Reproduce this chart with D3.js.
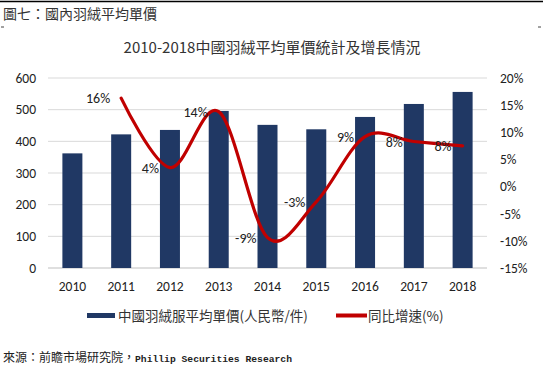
<!DOCTYPE html>
<html>
<head>
<meta charset="utf-8">
<script src="https://cdn.jsdelivr.net/npm/d3@7"></script>
<style>
  body { margin: 0; background: #fff; }
  svg { display: block; }
</style>
</head>
<body>
<script>
const width = 543;
const height = 368;

// data
const years = ["2010", "2011", "2012", "2013", "2014", "2015", "2016", "2017", "2018"];
const avgPrice = [362, 422, 436, 496, 452, 438, 477, 518, 556];
const growthYears = ["2011", "2012", "2013", "2014", "2015", "2016", "2017", "2018"];
const growth = [16.3, 3.5, 13.8, -9.4, -2.8, 9.2, 8.3, 7.5];
const growthLabels = ["16%", "4%", "14%", "-9%", "-3%", "9%", "8%", "8%"];
const leftTicks = [0, 100, 200, 300, 400, 500, 600];
const rightTicks = [-15, -10, -5, 0, 5, 10, 15, 20];

const plotLeft = 48, plotRight = 487, plotTop = 78, plotBottom = 268;
const cjk = "'Noto Sans CJK TC', sans-serif";
const latin = "Calibri, Carlito, 'Open Sans', sans-serif";

const svg = d3.select("body").append("svg")
    .attr("width", width)
    .attr("height", height);

// header
svg.append("line")
    .attr("x1", 0).attr("x2", width)
    .attr("y1", 1.5).attr("y2", 1.5)
    .attr("stroke", "#000").attr("stroke-width", 1.5);
svg.append("text")
    .attr("x", 3).attr("y", 19)
    .attr("font-family", cjk).attr("font-size", 14).attr("fill", "#333")
    .text("圖七：國內羽絨平均單價");
svg.append("line").attr("x1", 1).attr("x2", 4).attr("y1", 27).attr("y2", 27).attr("stroke", "#444");
svg.append("line").attr("x1", 538).attr("x2", 541).attr("y1", 27).attr("y2", 27).attr("stroke", "#444");

svg.append("text")
    .attr("x", 272).attr("y", 53)
    .attr("text-anchor", "middle")
    .attr("font-family", cjk).attr("font-size", 15).attr("fill", "#333")
    .text("2010-2018中國羽絨平均單價統計及增長情況");

// scales
const x = d3.scaleBand()
    .domain(years)
    .range([plotLeft, plotRight])
    .paddingInner(0.59)
    .paddingOuter(0.295);
const yLeft = d3.scaleLinear().domain([0, 600]).range([plotBottom, plotTop]);
const yRight = d3.scaleLinear().domain([-15, 20]).range([plotBottom, plotTop]);

// gridlines
svg.append("g")
    .selectAll("line")
    .data(leftTicks)
    .join("line")
    .attr("x1", plotLeft).attr("x2", plotRight)
    .attr("y1", d => yLeft(d)).attr("y2", d => yLeft(d))
    .attr("stroke", d => d === 0 ? "#bfbfbf" : "#d9d9d9")
    .attr("stroke-width", 1);

// axes
const leftAxis = svg.append("g")
    .attr("transform", `translate(${plotLeft},0)`)
    .call(d3.axisLeft(yLeft).tickValues(leftTicks).tickSize(0).tickPadding(12));
const rightAxis = svg.append("g")
    .attr("transform", `translate(${plotRight},0)`)
    .call(d3.axisRight(yRight).tickValues(rightTicks).tickSize(0).tickPadding(13)
        .tickFormat(d => d + "%"));
const bottomAxis = svg.append("g")
    .attr("transform", `translate(0,${plotBottom})`)
    .call(d3.axisBottom(x).tickSize(0).tickPadding(13));
[leftAxis, rightAxis, bottomAxis].forEach(a => {
  a.select(".domain").remove();
  a.selectAll("text")
      .attr("font-family", latin)
      .attr("font-size", 13.5)
      .attr("fill", "#222");
});

// bars
svg.append("g")
    .selectAll("rect")
    .data(avgPrice)
    .join("rect")
    .attr("x", (d, i) => x(years[i]))
    .attr("y", d => yLeft(d))
    .attr("width", x.bandwidth())
    .attr("height", d => plotBottom - yLeft(d))
    .attr("fill", "#203864");

// growth line
const cx = d => x(d) + x.bandwidth() / 2;
const line = d3.line()
    .x((d, i) => cx(growthYears[i]))
    .y(d => yRight(d))
    .curve(d3.curveCatmullRom.alpha(0));
svg.append("path")
    .datum(growth)
    .attr("d", line)
    .attr("fill", "none")
    .attr("stroke", "#c00000")
    .attr("stroke-width", 3.2)
    .attr("stroke-linecap", "round");

svg.append("g")
    .selectAll("text")
    .data(growth)
    .join("text")
    .attr("x", (d, i) => cx(growthYears[i]) - 11)
    .attr("y", d => yRight(d) + 5)
    .attr("text-anchor", "end")
    .attr("font-family", latin)
    .attr("font-size", 14)
    .attr("fill", "#222")
    .text((d, i) => growthLabels[i]);

// legend
const legend = svg.append("g").attr("font-family", cjk).attr("font-size", 13.5).attr("fill", "#333");
legend.append("rect").attr("x", 87).attr("y", 313).attr("width", 28).attr("height", 5).attr("fill", "#203864");
legend.append("text").attr("x", 118).attr("y", 321).text("中國羽絨服平均單價(人民幣/件)");
legend.append("rect").attr("x", 336).attr("y", 313.5).attr("width", 31).attr("height", 4).attr("fill", "#c00000");
legend.append("text").attr("x", 368).attr("y", 321).text("同比增速(%)");

// source
const src = svg.append("text")
    .attr("x", 3).attr("y", 362)
    .attr("font-size", 12).attr("fill", "#222");
src.append("tspan").attr("font-family", cjk).text("來源：前瞻市場研究院，");
src.append("tspan").attr("font-family", "'Liberation Mono', monospace")
    .attr("font-size", 9.7).attr("font-weight", "bold").text("Phillip Securities Research");
</script>
</body>
</html>
